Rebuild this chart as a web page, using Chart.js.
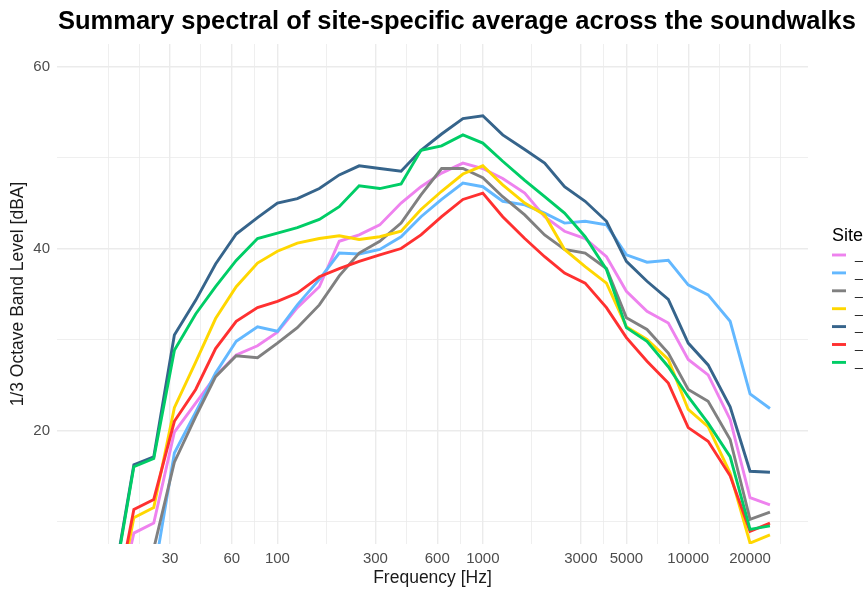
<!DOCTYPE html>
<html>
<head>
<meta charset="utf-8">
<script src="https://cdn.jsdelivr.net/npm/chart.js@4.4.1/dist/chart.umd.min.js"></script>
<style>
  html, body { margin: 0; padding: 0; background: #ffffff; overflow: hidden; }
  #wrap { width: 864px; height: 590px; }
</style>
</head>
<body>
<div id="wrap"><canvas id="chart" width="864" height="590"></canvas></div>
<script>
// 1/3 octave band centre frequencies (Hz)
const frequencies = [12.5, 16, 20, 25, 31.5, 40, 50, 63, 80, 100, 125, 160, 200, 250, 315, 400, 500,
  630, 800, 1000, 1250, 1600, 2000, 2500, 3150, 4000, 5000, 6300, 8000, 10000, 12500, 16000, 20000, 25000];

// Site-specific average band levels (dBA)
const sitePink = [-5, -1, 8.7, 9.8, 19.8, 23.0, 26.0, 28.3, 29.3, 30.8, 33.5, 35.8, 40.8, 41.5, 42.6, 45.0, 46.8,
  48.3, 49.4, 48.8, 47.7, 46.1, 43.5, 41.9, 41.1, 39.1, 35.3, 33.1, 31.8, 27.8, 26.1, 21.2, 12.6, 11.8];
const siteLightBlue = [-4, -2, 1, 4, 17.5, 22.0, 26.3, 29.8, 31.4, 30.9, 33.8, 36.6, 39.5, 39.4, 39.9, 41.3, 43.5,
  45.4, 47.2, 46.8, 45.2, 44.8, 43.9, 42.8, 43.0, 42.6, 39.3, 38.5, 38.7, 36.0, 34.9, 32.0, 24.0, 22.4];
const siteGrey = [-6, -3, 2, 7.0, 16.5, 21.5, 25.9, 28.2, 28.0, 29.6, 31.3, 33.8, 37.0, 39.5, 40.8, 42.8, 45.9,
  48.8, 48.8, 47.8, 45.7, 43.7, 41.5, 39.9, 39.5, 37.8, 32.4, 31.1, 28.5, 24.5, 23.2, 19.0, 10.2, 11.0];
const siteYellow = [-4, -0.9, 10.4, 11.5, 22.5, 27.5, 32.3, 35.8, 38.4, 39.7, 40.6, 41.1, 41.4, 41.0, 41.3, 41.9, 44.3,
  46.3, 48.2, 49.1, 47.0, 45.0, 43.7, 39.9, 38.0, 36.2, 31.4, 30.0, 27.8, 22.3, 20.4, 15.3, 7.6, 8.5];
const siteDarkBlue = [0, 3.5, 16.2, 17.1, 30.5, 34.3, 38.3, 41.6, 43.4, 45.0, 45.5, 46.6, 48.1, 49.1, 48.8, 48.5, 50.8,
  52.6, 54.3, 54.6, 52.5, 50.9, 49.4, 46.8, 45.2, 43.0, 38.6, 36.4, 34.4, 29.6, 27.2, 22.6, 15.5, 15.4];
const siteRed = [-4, 0, 11.3, 12.4, 21.0, 24.5, 29.0, 32.0, 33.5, 34.2, 35.1, 36.9, 37.8, 38.6, 39.3, 40.0, 41.5,
  43.5, 45.4, 46.1, 43.5, 41.1, 39.1, 37.3, 36.2, 33.5, 30.2, 27.6, 25.2, 20.3, 18.8, 15.0, 8.9, 9.8];
const siteGreen = [0, 3.2, 16.0, 16.9, 28.8, 32.8, 35.8, 38.7, 41.1, 41.7, 42.3, 43.2, 44.6, 46.9, 46.6, 47.1, 50.8,
  51.3, 52.5, 51.6, 49.6, 47.5, 45.7, 43.9, 41.3, 37.7, 31.3, 29.8, 27.0, 23.7, 20.8, 17.1, 9.1, 9.5];

const siteLabels = ['_', '_', '_', '_', '_', '_', '_'];
const siteColors = ['#EE82EE', '#63B8FF', '#808080', '#FFD700', '#36648B', '#FF3030', '#00CD66'];
const siteSeries = [sitePink, siteLightBlue, siteGrey, siteYellow, siteDarkBlue, siteRed, siteGreen];

// Axis breaks
const xMajorTicks = [30, 60, 100, 300, 600, 1000, 3000, 5000, 10000, 20000];
const xMinorTicks = [15, 21.2, 42.4, 77.5, 173.2, 424.3, 774.6, 1732, 3873, 7071, 14142, 28284];
const yMajorTicks = [20, 40, 60];
const yMinorTicks = [10, 30, 50];

const FONT = '"Liberation Sans", Arial, Helvetica, sans-serif';
const TITLE = 'Summary spectral of site-specific average across the soundwalks';

const datasets = siteSeries.map((vals, i) => ({
  label: siteLabels[i],
  data: frequencies.map((f, j) => ({ x: f, y: vals[j] })),
  borderColor: siteColors[i],
  backgroundColor: siteColors[i],
  borderWidth: 2.9,
  pointRadius: 0,
  tension: 0,
  clip: 0,
  order: siteSeries.length - i
}));

const titlePlugin = {
  id: 'plotTitle',
  afterDraw(chart) {
    const ctx = chart.ctx;
    ctx.save();
    ctx.font = 'bold 25.5px ' + FONT;
    ctx.fillStyle = '#000000';
    ctx.textAlign = 'left';
    ctx.textBaseline = 'middle';
    ctx.fillText(TITLE, chart.chartArea.left + 1, 22);
    ctx.restore();
  }
};

const legendPlugin = {
  id: 'siteLegend',
  afterDraw(chart) {
    const ctx = chart.ctx;
    const x0 = chart.chartArea.right + 24;
    const y0 = 255;
    ctx.save();
    ctx.font = '18px ' + FONT;
    ctx.fillStyle = '#000000';
    ctx.textAlign = 'left';
    ctx.textBaseline = 'middle';
    ctx.fillText('Site', x0, 236);
    chart.data.datasets.forEach((ds, i) => {
      const y = y0 + i * 17.9;
      ctx.strokeStyle = ds.borderColor;
      ctx.lineWidth = 2.9;
      ctx.beginPath();
      ctx.moveTo(x0, y);
      ctx.lineTo(x0 + 14, y);
      ctx.stroke();
      ctx.font = '14px ' + FONT;
      ctx.fillStyle = '#1A1A1A';
      ctx.fillText(ds.label, x0 + 23, y);
    });
    ctx.restore();
  }
};

new Chart(document.getElementById('chart'), {
  type: 'line',
  data: { datasets },
  options: {
    responsive: false,
    animation: false,
    devicePixelRatio: 1,
    layout: { padding: { top: 44, right: 56, left: 0, bottom: 0 } },
    plugins: { legend: { display: false }, tooltip: { enabled: false }, title: { display: false } },
    scales: {
      x: {
        type: 'logarithmic',
        min: 8.45,
        max: 38300,
        afterBuildTicks(scale) {
          scale.ticks = [...xMinorTicks, ...xMajorTicks].sort((a, b) => a - b).map(v => ({ value: v }));
        },
        afterFit(scale) { scale.height = 46; },
        ticks: {
          autoSkip: false,
          maxRotation: 0,
          padding: 6,
          color: '#4D4D4D',
          font: { size: 15, family: FONT },
          callback: (v) => xMajorTicks.includes(v) ? String(v) : ''
        },
        grid: {
          color: '#EBEBEB',
          drawTicks: false,
          lineWidth: (c) => (c.tick && xMajorTicks.includes(c.tick.value)) ? 1.4 : 0.8
        },
        border: { display: false },
        title: {
          display: true,
          text: 'Frequency [Hz]',
          color: '#1A1A1A',
          font: { size: 17.5, family: FONT },
          padding: { top: 0, bottom: 1 }
        }
      },
      y: {
        min: 7.5,
        max: 62.5,
        afterBuildTicks(scale) {
          scale.ticks = [...yMinorTicks, ...yMajorTicks].sort((a, b) => a - b).map(v => ({ value: v }));
        },
        afterFit(scale) { scale.width = 57; },
        ticks: {
          padding: 7,
          color: '#4D4D4D',
          font: { size: 15, family: FONT },
          callback: (v) => yMajorTicks.includes(v) ? String(v) : ''
        },
        grid: {
          color: '#EBEBEB',
          drawTicks: false,
          lineWidth: (c) => (c.tick && yMajorTicks.includes(c.tick.value)) ? 1.4 : 0.8
        },
        border: { display: false },
        title: {
          display: true,
          text: '1/3 Octave Band Level [dBA]',
          color: '#1A1A1A',
          font: { size: 17.5, family: FONT },
          padding: { top: 8, bottom: 0 }
        }
      }
    }
  },
  plugins: [titlePlugin, legendPlugin]
});
</script>
</body>
</html>
